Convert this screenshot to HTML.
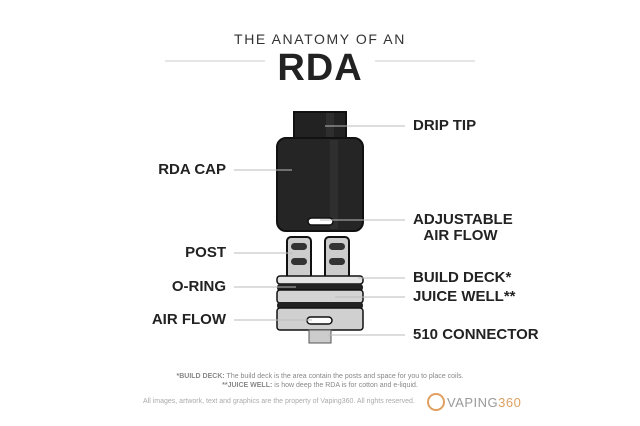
<!DOCTYPE html>
<html><head><style>
body{margin:0;width:640px;height:426px;background:#fff;overflow:hidden;position:relative;font-family:"Liberation Sans",sans-serif}
.l{position:absolute;font-weight:bold;font-size:15px;color:#222;white-space:nowrap;line-height:16px}
.r{text-align:right}
</style></head><body>
<div style="position:absolute;left:0;width:640px;top:31px;text-align:center;font-size:14px;letter-spacing:1.6px;color:#333">THE ANATOMY OF AN</div>
<div style="position:absolute;left:0;width:640px;top:47px;text-align:center;font-size:38px;font-weight:bold;color:#222;letter-spacing:1px">RDA</div>
<svg width="640" height="426" style="position:absolute;left:0;top:0">
<g stroke="#ddd" stroke-width="1.5"><line x1="165" y1="61" x2="265" y2="61"/><line x1="375" y1="61" x2="475" y2="61"/></g>
<rect x="294" y="112" width="52" height="30" fill="#222" stroke="#111" stroke-width="2"/>
<rect x="326" y="113" width="8" height="28" fill="#2e2e2e"/>
<rect x="277" y="138" width="86" height="93" rx="9" fill="#252525" stroke="#111" stroke-width="2"/>
<rect x="330" y="140" width="8" height="89" fill="#2f2f2f"/>
<rect x="308" y="218" width="25" height="7" rx="3.5" fill="#fff" stroke="#111" stroke-width="1.5"/>
<g stroke="#111" stroke-width="2" fill="#ccc">
<rect x="287" y="237" width="24" height="42" rx="4"/><rect x="325" y="237" width="24" height="42" rx="4"/>
</g>
<g fill="#333"><rect x="291" y="243" width="16" height="7" rx="3.5"/><rect x="291" y="258" width="16" height="7" rx="3.5"/><rect x="329" y="243" width="16" height="7" rx="3.5"/><rect x="329" y="258" width="16" height="7" rx="3.5"/></g>
<rect x="277" y="276" width="86" height="8" rx="3" fill="#e4e4e4" stroke="#111" stroke-width="1.5"/>
<rect x="277" y="284" width="86" height="7" rx="3" fill="#222"/>
<rect x="277" y="290" width="86" height="13" rx="3" fill="#d4d4d4" stroke="#111" stroke-width="1.5"/>
<rect x="277" y="302" width="86" height="7" rx="3" fill="#222"/>
<rect x="277" y="308" width="86" height="22" rx="3" fill="#d0d0d0" stroke="#111" stroke-width="1.5"/>
<rect x="307" y="317" width="25" height="7" rx="3.5" fill="#fff" stroke="#111" stroke-width="1.5"/>
<rect x="309" y="330" width="22" height="13" fill="#ccc" stroke="#555" stroke-width="1"/>
<g stroke="#bbb" stroke-width="1">
<line x1="325" y1="126" x2="405" y2="126"/>
<line x1="234" y1="170" x2="292" y2="170"/>
<line x1="320" y1="220" x2="405" y2="220"/>
<line x1="234" y1="253" x2="293" y2="253"/>
<line x1="234" y1="287" x2="296" y2="287"/>
<line x1="234" y1="320" x2="312" y2="320"/>
<line x1="358" y1="278" x2="405" y2="278"/>
<line x1="335" y1="297" x2="405" y2="297"/>
<line x1="328" y1="335" x2="405" y2="335"/>
</g>
<circle cx="436" cy="402" r="8" fill="none" stroke="#e0a060" stroke-width="2"/>
</svg>
<div class="l" style="left:413px;top:118px">DRIP TIP</div>
<div class="l r" style="left:120px;width:106px;top:162px">RDA CAP</div>
<div class="l" style="left:413px;top:212px;text-align:center;width:95px">ADJUSTABLE<br>AIR FLOW</div>
<div class="l r" style="left:120px;width:106px;top:245px">POST</div>
<div class="l r" style="left:120px;width:106px;top:279px">O-RING</div>
<div class="l r" style="left:120px;width:106px;top:312px">AIR FLOW</div>
<div class="l" style="left:413px;top:270px">BUILD DECK*</div>
<div class="l" style="left:413px;top:289px">JUICE WELL**</div>
<div class="l" style="left:413px;top:327px">510 CONNECTOR</div>
<div style="position:absolute;left:0;width:640px;top:372px;text-align:center;font-size:7px;color:#888;line-height:9px"><b>*BUILD DECK:</b> The build deck is the area contain the posts and space for you to place coils.<br><b>**JUICE WELL:</b> is how deep the RDA is for cotton and e-liquid.</div>
<div style="position:absolute;left:143px;top:398px;font-size:7px;color:#aaa">All images, artwork, text and graphics are the property of Vaping360. All rights reserved.</div>
<div style="position:absolute;left:447px;top:395px;font-size:13px;color:#999;letter-spacing:0.5px">VAPING<span style="color:#e0a060">360</span></div>
</body></html>
